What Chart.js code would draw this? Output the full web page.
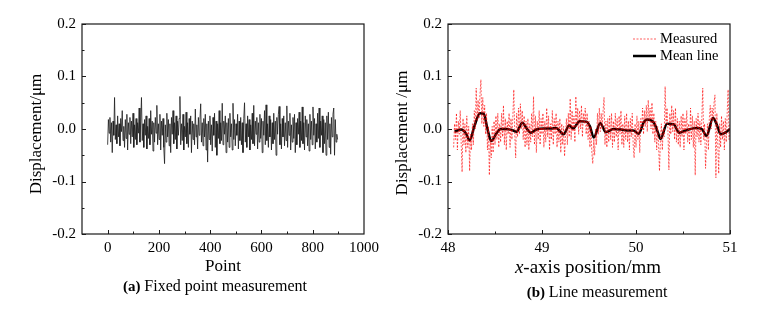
<!DOCTYPE html>
<html>
<head>
<meta charset="utf-8">
<script src="https://cdn.jsdelivr.net/npm/chart.js@4"></script>
<style>
  body { margin: 0; background: #fff; }
  #wrap { position: relative; width: 768px; height: 310px; }
  canvas { position: absolute; top: 0; }
</style>
</head>
<body>
<div id="wrap">
  <canvas id="fixedChart" width="384" height="310" style="left:0"></canvas>
  <canvas id="lineChart" width="384" height="310" style="left:384px"></canvas>
</div>
<script>
// (a) fixed point measurement, one value every pointStep points
var pointStep = 3;
var fixedValues = [
  -0.030, 0.018, -0.008, 0.022, -0.025, 0.012, -0.045, 0.015, -0.012, 0.060, -0.020, 0.008, -0.028, 0.025, -0.015,
  0.010, -0.032, 0.020, -0.005, 0.035, -0.022, 0.005, -0.035, 0.018, -0.018, 0.028, -0.040, 0.012, -0.010, 0.022,
  -0.028, 0.015, -0.015, 0.030, -0.035, 0.008, -0.020, 0.020, -0.030, 0.012, -0.008, 0.040, -0.025, 0.015, 0.060,
  -0.022, 0.010, -0.035, 0.018, -0.012, 0.025, -0.038, 0.005, -0.018, 0.020, -0.030, 0.035, -0.010, 0.015, -0.042,
  0.012, -0.025, 0.022, -0.008, 0.045, -0.030, 0.010, -0.020, 0.028, -0.040, 0.015, -0.012, 0.020, -0.035, -0.066,
  0.008, -0.025, 0.030, -0.015, 0.018, -0.032, 0.010, -0.045, 0.022, -0.010, 0.035, -0.028, 0.012, -0.020, 0.025,
  -0.038, 0.015, -0.012, 0.020, 0.062, -0.030, 0.010, -0.022, 0.028, -0.040, 0.005, -0.015, 0.032, -0.028, 0.012,
  -0.035, 0.020, -0.010, 0.025, -0.045, 0.015, -0.020, 0.010, -0.030, 0.038, -0.015, 0.008, -0.038, 0.022, -0.012,
  0.018, 0.048, -0.025, 0.012, -0.032, 0.020, -0.015, 0.028, -0.040, 0.010, -0.063, 0.015, -0.020, 0.025, -0.030,
  0.008, -0.042, 0.022, -0.012, 0.030, -0.035, 0.015, -0.050, 0.010, -0.018, 0.035, -0.028, 0.012, -0.022, 0.049,
  -0.030, 0.015, -0.010, 0.025, -0.045, 0.012, -0.025, 0.020, -0.035, 0.030, -0.015, 0.010, -0.040, 0.049, -0.020,
  0.018, -0.032, 0.010, -0.012, 0.028, -0.038, 0.015, -0.022, 0.022, -0.030, 0.012, -0.045, 0.020, 0.050, -0.025,
  0.010, -0.035, 0.025, -0.015, 0.018, -0.040, 0.008, -0.020, 0.030, -0.028, 0.045, -0.032, 0.015, -0.010, 0.022,
  -0.038, 0.012, -0.025, 0.028, -0.018, 0.020, -0.045, 0.015, -0.012, 0.035, -0.030, 0.046, -0.022, 0.010, -0.035,
  0.025, -0.015, 0.018, -0.040, 0.012, -0.028, 0.030, -0.020, 0.015, -0.050, 0.022, -0.010, 0.028, 0.043, -0.030,
  0.010, -0.038, 0.020, -0.015, 0.025, -0.032, 0.012, -0.022, 0.044, -0.035, 0.015, -0.012, 0.030, -0.040, 0.008,
  -0.025, 0.022, -0.018, 0.028, -0.045, 0.012, -0.030, 0.020, -0.010, 0.032, -0.035, 0.015, -0.022, 0.042, -0.028,
  0.012, -0.040, 0.025, -0.015, 0.018, -0.032, 0.010, -0.042, 0.028, -0.020, 0.015, -0.030, 0.042, -0.012, 0.020,
  -0.038, 0.010, -0.025, 0.030, -0.018, 0.040, -0.035, 0.015, -0.012, 0.025, -0.045, 0.018, -0.028, 0.012, -0.050,
  0.025, -0.020, 0.032, -0.035, 0.010, -0.048, 0.022, -0.015, 0.028, 0.040, -0.050, 0.018, -0.025, -0.010, -0.020
];

// (b) line measurement, measured profile sampled every scanStep mm
var scanStart = 48.06;
var scanStep = 0.01;
var measuredValues = [
  -0.035, 0.010, -0.020, 0.030, -0.040, 0.015, -0.010, 0.035, -0.025, -0.082,
  0.020, -0.030, 0.010, -0.045, 0.025, -0.035, 0.005, -0.080, -0.010, -0.040,
  0.010, -0.030, 0.035, 0.000, 0.078, 0.015, 0.055, 0.020, 0.065, 0.094,
  0.010, 0.060, 0.005, 0.045, -0.010, 0.030, -0.040, 0.005, -0.088, -0.020,
  -0.055, 0.005, -0.045, 0.015, -0.030, 0.025, -0.020, 0.030, -0.035, 0.010,
  -0.025, 0.030, -0.015, 0.045, -0.030, 0.020, -0.040, 0.015, -0.010, 0.030,
  -0.035, 0.020, -0.020, 0.025, 0.075, -0.010, -0.055, 0.030, -0.015, 0.040,
  -0.010, 0.048, 0.000, 0.035, -0.020, 0.025, -0.035, 0.015, -0.030, 0.020,
  -0.040, 0.010, -0.025, 0.030, -0.015, 0.062, -0.030, 0.025, -0.045, 0.015,
  -0.020, 0.035, -0.030, 0.020, -0.010, 0.030, -0.035, 0.015, -0.025, 0.040,
  -0.015, 0.025, -0.040, 0.010, -0.020, 0.035, -0.030, 0.020, -0.010, 0.030,
  -0.035, 0.015, -0.025, 0.020, -0.045, 0.010, -0.030, 0.005, -0.052, -0.015,
  0.020, -0.030, 0.030, -0.015, 0.058, -0.020, 0.035, -0.005, 0.025, -0.025,
  0.062, 0.005, 0.040, -0.010, 0.035, 0.000, 0.045, -0.015, 0.030, 0.010,
  0.040, -0.010, 0.030, -0.020, 0.015, -0.035, 0.005, -0.045, -0.066, -0.020,
  -0.050, 0.000, -0.030, 0.030, -0.010, 0.040, -0.005, 0.030, 0.000, 0.035,
  0.060, -0.030, 0.015, -0.035, 0.020, -0.025, 0.025, -0.020, 0.030, -0.035,
  0.015, -0.025, 0.030, -0.015, 0.020, -0.040, 0.025, -0.010, 0.035, -0.030,
  0.010, -0.035, 0.025, -0.020, 0.030, -0.025, 0.015, -0.040, 0.020, -0.015,
  0.030, -0.030, -0.055, 0.010, -0.035, 0.025, -0.020, 0.015, -0.045, 0.020,
  0.000, 0.040, -0.010, 0.035, 0.005, 0.045, -0.005, 0.055, 0.015, 0.040,
  0.000, 0.050, -0.010, 0.030, -0.025, 0.015, -0.040, 0.005, -0.030, -0.080,
  -0.020, 0.010, -0.040, 0.000, -0.015, 0.081, 0.010, 0.040, -0.005, -0.078,
  0.030, -0.010, 0.045, -0.005, 0.035, -0.020, 0.040, -0.025, 0.020, -0.030,
  0.015, -0.035, 0.025, -0.015, 0.030, -0.040, 0.020, -0.010, 0.035, -0.025,
  0.010, -0.030, 0.040, -0.020, 0.025, -0.035, 0.015, -0.088, 0.020, -0.015,
  0.030, -0.025, 0.015, -0.030, 0.020, 0.078, -0.020, 0.010, -0.075, -0.030,
  0.010, -0.040, 0.020, 0.045, 0.000, 0.040, 0.015, 0.050, 0.065, -0.093,
  0.030, -0.030, -0.085, 0.010, -0.035, 0.025, -0.020, 0.015, -0.040, 0.020,
  -0.025, 0.030, 0.075, -0.020, 0.010
];
var meanX = [48.07, 48.14, 48.19, 48.23, 48.28, 48.34, 48.38, 48.42, 48.46, 48.51, 48.56, 48.62, 48.68,
  48.73, 48.79, 48.84, 48.88, 48.94, 49.02, 49.10, 49.15, 49.23, 49.29, 49.33, 49.40, 49.47, 49.51,
  49.55, 49.62, 49.68, 49.76, 49.84, 49.92, 49.97, 50.03, 50.08, 50.12, 50.19, 50.23, 50.26, 50.33,
  50.40, 50.46, 50.54, 50.64, 50.70, 50.75, 50.82, 50.86, 50.90, 50.95, 51.00];
var meanY = [-0.005, -0.001, -0.008, -0.022, 0.005, 0.030, 0.029, 0.000, -0.023, -0.010, 0.000, 0.000, -0.002,
  -0.005, 0.012, 0.000, -0.007, -0.001, 0.001, 0.001, 0.002, -0.010, 0.007, 0.001, 0.015, 0.014, 0.005,
  -0.016, 0.011, -0.006, 0.000, -0.001, -0.003, -0.003, -0.009, 0.012, 0.018, 0.012, -0.005, -0.019, 0.010,
  0.009, -0.007, -0.002, 0.002, 0.000, -0.013, 0.021, 0.008, -0.010, -0.007, 0.000];

var yTicks = [-0.2, -0.1, 0.0, 0.1, 0.2];
var pointTicks = [0, 200, 400, 600, 800, 1000];
var mmTicks = [48, 49, 50, 51];
var serif = '"Liberation Serif", "Times New Roman", serif';

// frame, inward ticks and the texts Chart.js can't style (bold/italic parts)
var decor = {
  id: 'decor',
  afterDraw: function (chart) {
    var o = chart.options.plugins.decor;
    var ctx = chart.ctx, a = chart.chartArea;
    var xs = chart.scales.x, ys = chart.scales.y;
    ctx.save();
    ctx.strokeStyle = '#1a1a1a';
    ctx.lineWidth = 1.2;
    ctx.strokeRect(a.left, a.top, a.right - a.left, a.bottom - a.top);
    ctx.lineWidth = 1;
    o.xMajor.forEach(function (v) {
      var px = Math.round(xs.getPixelForValue(v)) + 0.5;
      ctx.beginPath(); ctx.moveTo(px, a.bottom); ctx.lineTo(px, a.bottom - 4); ctx.stroke();
    });
    o.xMinor.forEach(function (v) {
      var px = Math.round(xs.getPixelForValue(v)) + 0.5;
      ctx.beginPath(); ctx.moveTo(px, a.bottom); ctx.lineTo(px, a.bottom - 2.5); ctx.stroke();
    });
    yTicks.forEach(function (v) {
      var py = Math.round(ys.getPixelForValue(v)) + 0.5;
      ctx.beginPath(); ctx.moveTo(a.left, py); ctx.lineTo(a.left + 4, py); ctx.stroke();
    });
    [-0.15, -0.05, 0.05, 0.15].forEach(function (v) {
      var py = Math.round(ys.getPixelForValue(v)) + 0.5;
      ctx.beginPath(); ctx.moveTo(a.left, py); ctx.lineTo(a.left + 2.5, py); ctx.stroke();
    });

    ctx.fillStyle = '#000';
    ctx.textBaseline = 'middle';
    // y title
    ctx.save();
    ctx.translate(o.yTitleX, o.yTitleY);
    ctx.rotate(-Math.PI / 2);
    ctx.textAlign = 'center';
    ctx.font = '17px ' + serif;
    ctx.fillText(o.yTitle, 0, 0);
    ctx.restore();

    // x title, first part may be italic
    ctx.textAlign = 'left';
    var f1 = (o.xTitleItalic ? 'italic ' : '') + o.xTitleSize + 'px ' + serif;
    var f2 = o.xTitleSize + 'px ' + serif;
    ctx.font = f1;
    var w1 = ctx.measureText(o.xTitle[0]).width;
    ctx.font = f2;
    var w2 = ctx.measureText(o.xTitle[1]).width;
    var x0 = o.xTitleX - (w1 + w2) / 2;
    ctx.font = f1;
    ctx.fillText(o.xTitle[0], x0, o.xTitleY);
    ctx.font = f2;
    ctx.fillText(o.xTitle[1], x0 + w1, o.xTitleY);

    // caption, bold tag + normal text
    ctx.font = 'bold 15px ' + serif;
    var c1 = ctx.measureText(o.caption[0]).width;
    ctx.font = '16px ' + serif;
    var c2 = ctx.measureText(o.caption[1]).width;
    var cx = o.captionX - (c1 + c2) / 2;
    ctx.font = 'bold 15px ' + serif;
    ctx.fillText(o.caption[0], cx, o.captionY);
    ctx.font = '16px ' + serif;
    ctx.fillText(o.caption[1], cx + c1, o.captionY);

    // legend
    if (o.legend) {
      chart.data.datasets.forEach(function (ds, i) {
        var ly = o.legend.y + i * 17;
        ctx.save();
        ctx.strokeStyle = ds.borderColor;
        ctx.lineWidth = ds.borderWidth;
        ctx.setLineDash(ds.borderDash || []);
        ctx.beginPath(); ctx.moveTo(o.legend.x, ly); ctx.lineTo(o.legend.x + 23, ly); ctx.stroke();
        ctx.restore();
        ctx.font = '14.5px ' + serif;
        ctx.fillText(ds.label, o.legend.x + 27, ly);
      });
    }
    ctx.restore();
  }
};

function yScale(width) {
  return {
    min: -0.2, max: 0.2,
    afterBuildTicks: function (s) { s.ticks = yTicks.map(function (v) { return { value: v }; }); },
    ticks: {
      padding: 6, color: '#000', font: { family: serif, size: 15 },
      callback: function (v) { return Number(v).toFixed(1); }
    },
    grid: { display: false, drawTicks: false },
    border: { display: false },
    afterFit: function (s) { s.width = width; }
  };
}

function xScale(min, max, tickValues) {
  return {
    type: 'linear', min: min, max: max,
    afterBuildTicks: function (s) { s.ticks = tickValues.map(function (v) { return { value: v }; }); },
    ticks: {
      padding: 5, color: '#000', font: { family: serif, size: 15 },
      maxRotation: 0, autoSkip: false,
      callback: function (v) { return String(v); }
    },
    grid: { display: false, drawTicks: false },
    border: { display: false },
    afterFit: function (s) { s.height = 40; }
  };
}

var fixedData = fixedValues.map(function (v, i) { return { x: i * pointStep, y: v }; });

new Chart(document.getElementById('fixedChart'), {
  type: 'line',
  data: {
    datasets: [{
      data: fixedData,
      borderColor: '#1c1c1c',
      borderWidth: 0.8,
      pointRadius: 0,
      tension: 0
    }]
  },
  options: {
    responsive: false,
    animation: false,
    layout: { padding: { top: 24, right: 20, bottom: 36, left: 0 } },
    scales: {
      x: xScale(-100, 1000, pointTicks),
      y: yScale(82)
    },
    plugins: {
      legend: { display: false },
      tooltip: { enabled: false },
      decor: {
        xMajor: [0, 200, 400, 600, 800],
        xMinor: [100, 300, 500, 700, 900],
        yTitle: 'Displacement/\u03bcm', yTitleX: 37, yTitleY: 134,
        xTitle: ['', 'Point'], xTitleItalic: false, xTitleSize: 17, xTitleX: 223, xTitleY: 267,
        caption: ['(a) ', 'Fixed point measurement'], captionX: 215, captionY: 287
      }
    }
  },
  plugins: [decor]
});

var measuredData = measuredValues.map(function (v, i) { return { x: scanStart + i * scanStep, y: v }; });
var meanData = meanX.map(function (x, i) { return { x: x, y: meanY[i] }; });

new Chart(document.getElementById('lineChart'), {
  type: 'line',
  data: {
    datasets: [{
      label: 'Measured',
      data: measuredData,
      borderColor: 'rgba(255,0,0,0.8)',
      borderWidth: 0.8,
      borderDash: [2, 1.5],
      pointRadius: 0,
      tension: 0
    }, {
      label: 'Mean line',
      data: meanData,
      borderColor: '#000',
      borderWidth: 2.5,
      pointRadius: 0,
      cubicInterpolationMode: 'monotone'
    }]
  },
  options: {
    responsive: false,
    animation: false,
    layout: { padding: { top: 24, right: 38, bottom: 36, left: 0 } },
    scales: {
      x: xScale(48, 51, mmTicks),
      y: yScale(64)
    },
    plugins: {
      legend: { display: false },
      tooltip: { enabled: false },
      decor: {
        xMajor: [48, 49, 50, 51],
        xMinor: [48.5, 49.5, 50.5],
        yTitle: 'Displacement /\u03bcm', yTitleX: 19, yTitleY: 133,
        xTitle: ['x', '-axis position/mm'], xTitleItalic: true, xTitleSize: 19, xTitleX: 204, xTitleY: 268,
        caption: ['(b) ', 'Line measurement'], captionX: 213, captionY: 293,
        legend: { x: 249, y: 39 }
      }
    }
  },
  plugins: [decor]
});
</script>
</body>
</html>
